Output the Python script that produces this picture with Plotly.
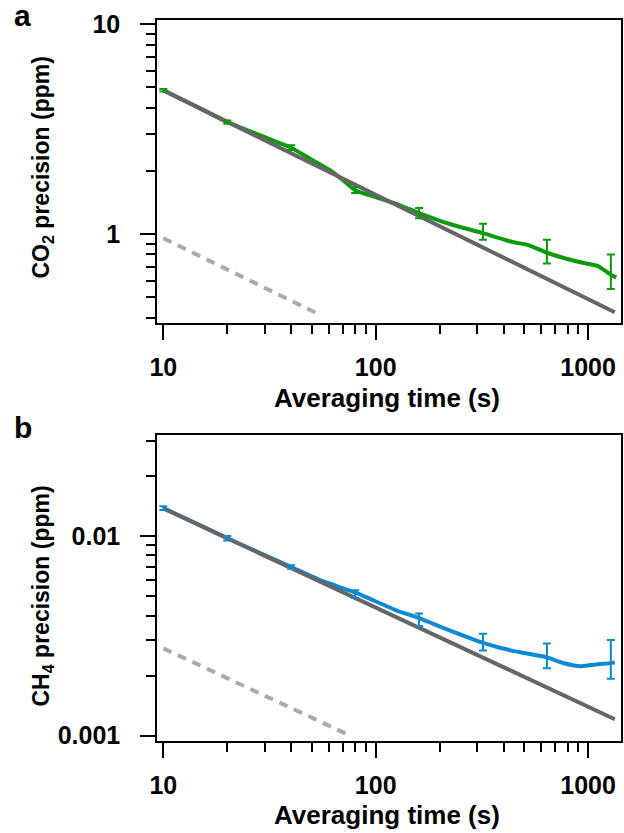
import plotly.graph_objects as go

# averaging times where error bars are drawn (s)
tau_bars = [10, 20, 40, 80, 160, 320, 640, 1280]

# CO2 precision curve (ppm)
co2_t = [10, 14, 20, 28, 35, 40, 50, 62, 70, 80, 100, 129, 160, 221, 320, 436, 524, 640, 898, 1114, 1280, 1358]
co2_v = [4.85, 4.1, 3.42, 2.98, 2.72, 2.58, 2.26, 1.99, 1.81, 1.62, 1.50, 1.375, 1.26, 1.12, 1.01, 0.92, 0.886, 0.815, 0.738, 0.704, 0.64, 0.622]
co2_bar_v = [4.85, 3.42, 2.58, 1.62, 1.26, 1.01, 0.815, 0.638]
co2_bar_hi = [4.92, 3.48, 2.65, 1.67, 1.33, 1.12, 0.94, 0.80]
co2_bar_lo = [4.78, 3.36, 2.52, 1.57, 1.19, 0.94, 0.725, 0.547]
co2_fit_t = [10, 1336]
co2_fit_v = [4.84, 0.424]
co2_lim_t = [10, 55]
co2_lim_v = [0.955, 0.411]

# CH4 precision curve (ppm)
ch4_t = [10, 14, 20, 28, 40, 55, 80, 124, 160, 221, 320, 437, 640, 778, 931, 1114, 1280, 1336]
ch4_v = [0.0138, 0.0117, 0.00975, 0.0083, 0.00700, 0.0060, 0.00522, 0.00426, 0.00388, 0.00338, 0.00292, 0.00267, 0.00247, 0.0023, 0.00223, 0.00228, 0.00231, 0.00233]
ch4_bar_v = [0.0138, 0.00975, 0.00700, 0.00516, 0.00383, 0.0029, 0.00249, 0.0023]
ch4_bar_hi = [0.0141, 0.0100, 0.00714, 0.00535, 0.00409, 0.00324, 0.0029, 0.00302]
ch4_bar_lo = [0.0135, 0.0095, 0.00686, 0.00489, 0.00354, 0.00267, 0.00218, 0.00193]
ch4_fit_t = [10, 1336]
ch4_fit_v = [0.01377, 0.00121]
ch4_lim_t = [10, 76]
ch4_lim_v = [0.00274, 0.001]

# ticks
x_major = [10, 100, 1000]
x_minor = [20, 30, 40, 50, 60, 70, 80, 90, 200, 300, 400, 500, 600, 700, 800, 900]
co2_major = [1, 10]
co2_minor = [0.4, 0.5, 0.6, 0.7, 0.8, 0.9, 2, 3, 4, 5, 6, 7, 8, 9]
ch4_major = [0.001, 0.01]
ch4_minor = [0.002, 0.003, 0.004, 0.005, 0.006, 0.007, 0.008, 0.009, 0.02, 0.03]

GREEN = '#0a9a0a'
BLUE = '#0a8ad4'
FIT = '#666666'
LIM = '#aaaaaa'
FONT = 'Arial, Liberation Sans, sans-serif'

W, H = 624, 833
ML, MR, MT, MB = 157, 1, 20, 92


def ypaper(px):
    return (H - MB - px) / (H - MT - MB)


def px_x(px):
    return (px - ML) / (W - ML - MR)


fig = go.Figure()


def add_panel(xa, ya, t, v, bt, bv, hi, lo, ft, fv, lt, lv, color):
    fig.add_trace(go.Scatter(x=t, y=v, mode='lines', line=dict(color=color, width=4, shape='spline', smoothing=0.5),
                             xaxis=xa, yaxis=ya, showlegend=False))
    fig.add_trace(go.Scatter(x=ft, y=fv, mode='lines', line=dict(color=FIT, width=4),
                             xaxis=xa, yaxis=ya, showlegend=False))
    fig.add_trace(go.Scatter(x=lt, y=lv, mode='lines', line=dict(color=LIM, width=4, dash='9px,7px'),
                             xaxis=xa, yaxis=ya, showlegend=False))
    fig.add_trace(go.Scatter(
        x=bt, y=bv, mode='markers', marker=dict(size=1, color='rgba(0,0,0,0)'),
        error_y=dict(type='data', symmetric=False,
                     array=[h - c for h, c in zip(hi, bv)],
                     arrayminus=[c - l for c, l in zip(bv, lo)],
                     color=color, thickness=2, width=4),
        xaxis=xa, yaxis=ya, showlegend=False))


add_panel('x', 'y', co2_t, co2_v, tau_bars, co2_bar_v, co2_bar_hi, co2_bar_lo,
          co2_fit_t, co2_fit_v, co2_lim_t, co2_lim_v, GREEN)
add_panel('x2', 'y2', ch4_t, ch4_v, tau_bars, ch4_bar_v, ch4_bar_hi, ch4_bar_lo,
          ch4_fit_t, ch4_fit_v, ch4_lim_t, ch4_lim_v, BLUE)

axis_common = dict(type='log', showgrid=False, zeroline=False, showline=True, linecolor='black',
                   linewidth=1.5, mirror=True, ticks='outside', ticklen=15, tickwidth=1.5,
                   tickcolor='black', tickfont=dict(family=FONT, size=25, color='black', weight='bold'))
minor_ticks = dict(tickmode='array', ticklen=9, tickwidth=1.5, tickcolor='black', ticks='outside')

xcommon = dict(axis_common, tickmode='array', tickvals=x_major, ticktext=[str(v) for v in x_major],
               range=[0.970, 3.155], ticklabelstandoff=6,
               minor=dict(minor_ticks, tickvals=x_minor))

fig.update_layout(
    width=W, height=H,
    margin=dict(l=ML, r=MR, t=MT, b=MB),
    paper_bgcolor='white', plot_bgcolor='white',
    xaxis=dict(xcommon, domain=[0, 1], anchor='y'),
    yaxis=dict(axis_common, domain=[ypaper(323), 1], anchor='x', range=[-0.4237, 1.0204],
               tickmode='array', tickvals=co2_major, ticktext=['1', '10'], ticklabelstandoff=15,
               minor=dict(minor_ticks, tickvals=co2_minor)),
    xaxis2=dict(xcommon, domain=[0, 1], anchor='y2'),
    yaxis2=dict(axis_common, domain=[0, ypaper(435)], anchor='x2', range=[-3.0265, -1.4935],
                tickmode='array', tickvals=ch4_major, ticktext=['0.001', '0.01'], ticklabelstandoff=15,
                minor=dict(minor_ticks, tickvals=ch4_minor)),
)

xtitle_font = dict(family=FONT, size=26, color='black', weight='bold')
ytitle_font = dict(family=FONT, size=23, color='black', weight='bold')

annos = [
    dict(text='Averaging time (s)', x=px_x(388), y=ypaper(398), xanchor='center', yanchor='middle', font=xtitle_font),
    dict(text='Averaging time (s)', x=px_x(388), y=ypaper(815), xanchor='center', yanchor='middle', font=xtitle_font),
    dict(text='CO<sub>2</sub> precision (ppm)', x=px_x(42), y=ypaper(167), xanchor='center', yanchor='middle',
         textangle=-90, font=ytitle_font),
    dict(text='CH<sub>4</sub> precision (ppm)', x=px_x(42), y=ypaper(596), xanchor='center', yanchor='middle',
         textangle=-90, font=ytitle_font),
]
for a in annos:
    fig.add_annotation(xref='paper', yref='paper', showarrow=False, **a)

for lbl, ypx in [('a', 15), ('b', 427)]:
    fig.add_annotation(text=lbl, xref='paper', yref='paper', x=px_x(11), y=ypaper(ypx),
                       xanchor='left', yanchor='middle', showarrow=False,
                       font=dict(family=FONT, size=30, color='black', weight='bold'))

fig.write_html("out.html", config={'displayModeBar': False},
               post_script="document.body.style.margin='0';document.body.style.overflow='hidden';")
